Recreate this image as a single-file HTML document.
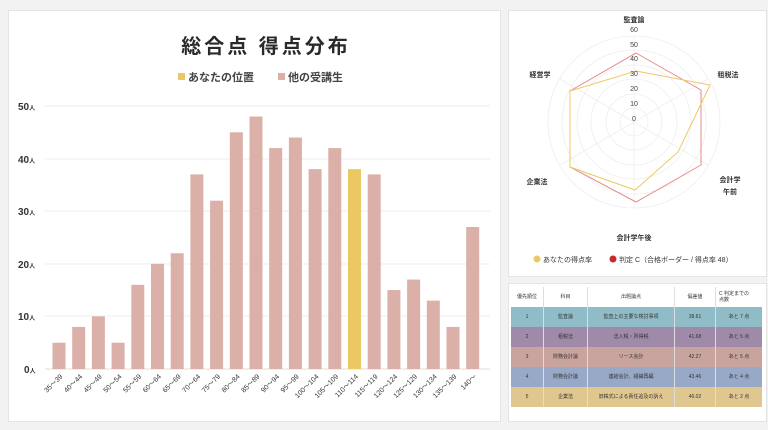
<!DOCTYPE html>
<html><head><meta charset="utf-8"><style>
body{margin:0;width:768px;height:430px;background:#f2f2f2;font-family:"Liberation Sans","Noto Sans CJK JP",sans-serif;position:relative;overflow:hidden}
.p{position:absolute;background:#fff;border:1px solid #e4e4e4}
table{position:absolute;left:511px;top:287px;border-collapse:collapse;font-size:5px;color:#333;table-layout:fixed;width:244px}
td{height:20px;text-align:center;border-right:1px solid #ddd;padding:0;line-height:6px;overflow:hidden}
td:last-child{border-right:none}
</style></head><body>
<div class="p" style="left:8px;top:10px;width:491px;height:410px"></div>
<div class="p" style="left:508px;top:10px;width:257px;height:265px"></div>
<div class="p" style="left:508px;top:283px;width:257px;height:137px"></div>
<svg width="768" height="430" style="position:absolute;left:0;top:0" font-family="Liberation Sans, Noto Sans CJK JP, sans-serif">
<text x="266" y="53" font-size="20" font-weight="bold" text-anchor="middle" fill="#2a2a2a" letter-spacing="3">総合点 得点分布</text>
<rect x="178" y="73" width="7" height="7" fill="#ecc865"/><text x="188" y="81" font-size="11" font-weight="bold" fill="#444">あなたの位置</text>
<rect x="278" y="73" width="7" height="7" fill="#dbb0a8"/><text x="288" y="81" font-size="11" font-weight="bold" fill="#444">他の受講生</text>
<g stroke="#ececec" stroke-width="1">
<line x1="45" x2="490" y1="106" y2="106"/><line x1="45" x2="490" y1="159" y2="159"/><line x1="45" x2="490" y1="211" y2="211"/><line x1="45" x2="490" y1="264" y2="264"/><line x1="45" x2="490" y1="316" y2="316"/><line x1="45" x2="490" y1="369" y2="369" stroke="#ddd"/>
</g>
<g font-size="10" font-weight="bold" fill="#333">
<text x="18" y="110">50<tspan font-size="6">人</tspan></text><text x="18" y="163">40<tspan font-size="6">人</tspan></text><text x="18" y="215">30<tspan font-size="6">人</tspan></text><text x="18" y="268">20<tspan font-size="6">人</tspan></text><text x="18" y="320">10<tspan font-size="6">人</tspan></text><text x="24" y="373">0<tspan font-size="6">人</tspan></text>
</g>
<g id="bars"></g>
<g id="xl" font-size="7" fill="#333"></g>
<g fill="none" stroke="#eee" stroke-width="0.8">
<circle cx="634" cy="122" r="14"/><circle cx="634" cy="122" r="28"/><circle cx="634" cy="122" r="43"/><circle cx="634" cy="122" r="57"/><circle cx="634" cy="122" r="72"/><circle cx="634" cy="122" r="86"/>
<line x1="634" y1="122" x2="634" y2="36"/><line x1="634" y1="122" x2="708" y2="79"/><line x1="634" y1="122" x2="708" y2="165"/><line x1="634" y1="122" x2="634" y2="208"/><line x1="634" y1="122" x2="560" y2="165"/><line x1="634" y1="122" x2="560" y2="79"/>
</g>
<polygon points="636,53 701,90 701,165 636,202 570,167 570,91" fill="none" stroke="#e58c8c" stroke-width="1"/>
<polygon points="636,71 710,85 678,152 635,190 570,167 570,91" fill="none" stroke="#ecc865" stroke-width="1"/>
<g font-size="7" fill="#444" text-anchor="middle">
<text x="634" y="32">60</text><text x="634" y="47">50</text><text x="634" y="61">40</text><text x="634" y="76">30</text><text x="634" y="91">20</text><text x="634" y="106">10</text><text x="634" y="121">0</text>
</g>
<g font-size="7" font-weight="bold" fill="#333" text-anchor="middle">
<text x="634" y="22">監査論</text><text x="728" y="77">租税法</text><text x="730" y="182">会計学</text><text x="730" y="194">午前</text><text x="634" y="240">会計学午後</text><text x="537" y="184">企業法</text><text x="540" y="77">経営学</text>
</g>
<circle cx="537" cy="259" r="3.5" fill="#ecc865"/><text x="543" y="262" font-size="7" fill="#333">あなたの得点率</text>
<circle cx="613" cy="259" r="3.5" fill="#c62a2a"/><text x="619" y="262" font-size="7" fill="#333">判定 C（合格ボーダー / 得点率 48）</text>
</svg>
<table>
<tr style="background:#fff"><td style="width:32px">優先順位</td><td style="width:43px">科目</td><td style="width:86px">出題論点</td><td style="width:40px">偏差値</td><td style="width:43px;text-align:left;padding-left:3px">C 判定までの<br>点数</td></tr>
<tr style="background:#8fbcc6"><td>1</td><td>監査論</td><td>監査上の主要な検討事項</td><td>38.61</td><td>あと 7 点</td></tr>
<tr style="background:#a08aa9"><td>2</td><td>租税法</td><td>法人税・所得税</td><td>41.68</td><td>あと 5 点</td></tr>
<tr style="background:#c9a39d"><td>3</td><td>財務会計論</td><td>リース会計</td><td>42.27</td><td>あと 5 点</td></tr>
<tr style="background:#97a9c7"><td>4</td><td>財務会計論</td><td>連結会計、組織再編</td><td>43.46</td><td>あと 4 点</td></tr>
<tr style="background:#e0c68f"><td>5</td><td>企業法</td><td>旧株式による責任追及の訴え</td><td>46.02</td><td>あと 2 点</td></tr>
</table>
<script>
var v=[5,8,10,5,16,20,22,37,32,45,48,42,44,38,42,38,37,15,17,13,8,27];
var l=["35～39","40～44","45～49","50～54","55～59","60～64","65～69","70～64","75～79","80～84","85～89","90～94","95～99","100～104","105～109","110～114","115～119","120～124","125～129","130～134","135～139","140～"];
var b="",t="";
for(var i=0;i<22;i++){var cx=59+i*19.7,h=v[i]*5.26;
b+='<rect x="'+(cx-6.5)+'" y="'+(369-h)+'" width="13" height="'+h+'" fill="'+(i==15?'#ecc865':'#dbb0a8')+'"/>';
t+='<text transform="translate('+(cx+4)+',377) rotate(-45)" text-anchor="end">'+l[i]+'</text>';}
document.getElementById("bars").innerHTML=b;document.getElementById("xl").innerHTML=t;
</script>
</body></html>
